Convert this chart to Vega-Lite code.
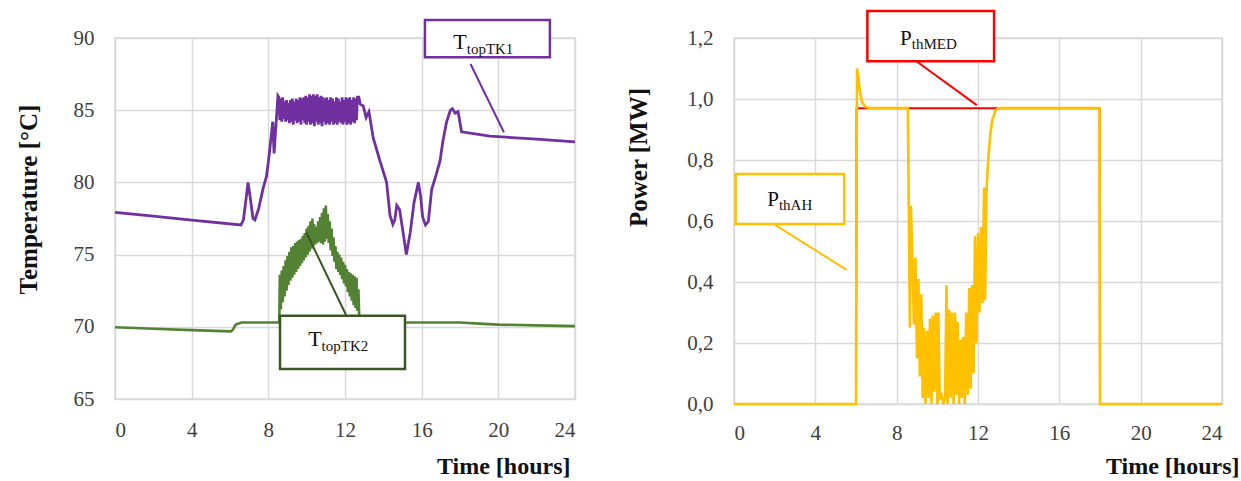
{
  "$schema": "https://vega.github.io/schema/vega-lite/v6.json",
  "background": "white",
  "padding": {"left": 15, "top": 9, "right": 0, "bottom": 0},
  "bounds": "flush",
  "spacing": 159,
  "resolve": {"scale": {"color": "independent", "stroke": "independent"}},
  "config": {
    "font": "Liberation Serif",
    "view": {"stroke": "#d9d9d9", "strokeWidth": 1.5},
    "axis": {
      "gridColor": "#d9d9d9", "gridWidth": 1.5, "domain": false, "ticks": false,
      "labelFont": "Liberation Serif", "titleFont": "Liberation Serif",
      "labelFontSize": 21, "labelColor": "#404040", "titleColor": "#111111",
      "titleFontSize": 24, "titleFontWeight": "bold"
    },
    "style": {"guide-label": {"font": "Liberation Serif"}, "guide-title": {"font": "Liberation Serif"}},
    "text": {"font": "Liberation Serif"}
  },
  "datasets": {
    "tk1": [
      {"t": 0, "v": 77.93}, {"t": 2, "v": 77.66}, {"t": 4, "v": 77.39}, {"t": 6.57, "v": 77.05},
      {"t": 6.7, "v": 77.4}, {"t": 6.85, "v": 79.0}, {"t": 6.94, "v": 80.0}, {"t": 7.05, "v": 79.0},
      {"t": 7.2, "v": 77.5}, {"t": 7.3, "v": 77.4}, {"t": 7.5, "v": 78.2}, {"t": 7.73, "v": 79.6},
      {"t": 7.9, "v": 80.4}, {"t": 8.0, "v": 81.4}, {"t": 8.1, "v": 82.6}, {"t": 8.23, "v": 84.2},
      {"t": 8.3, "v": 82.0}, {"t": 8.4, "v": 84.0}, {"t": 8.5, "v": 86.0},
      {"t": 8.55, "v": 85.9}, {"t": 8.6, "v": 84.3}, {"t": 8.65, "v": 85.8}, {"t": 8.7, "v": 84.2},
      {"t": 8.75, "v": 85.9}, {"t": 8.8, "v": 84.4}, {"t": 8.85, "v": 85.6}, {"t": 8.9, "v": 84.2},
      {"t": 8.95, "v": 85.7}, {"t": 9.0, "v": 84.3}, {"t": 9.05, "v": 85.5}, {"t": 9.1, "v": 84.1},
      {"t": 9.15, "v": 85.7}, {"t": 9.2, "v": 84.2}, {"t": 9.25, "v": 85.8}, {"t": 9.3, "v": 84.0},
      {"t": 9.35, "v": 85.6}, {"t": 9.4, "v": 84.3}, {"t": 9.45, "v": 85.8}, {"t": 9.5, "v": 84.1},
      {"t": 9.55, "v": 85.7}, {"t": 9.6, "v": 84.2}, {"t": 9.65, "v": 85.9}, {"t": 9.7, "v": 84.0},
      {"t": 9.75, "v": 85.8}, {"t": 9.8, "v": 84.3}, {"t": 9.85, "v": 85.9}, {"t": 9.9, "v": 84.1},
      {"t": 9.95, "v": 86.0}, {"t": 10.0, "v": 84.0}, {"t": 10.05, "v": 85.9}, {"t": 10.1, "v": 84.2},
      {"t": 10.15, "v": 86.1}, {"t": 10.2, "v": 84.0}, {"t": 10.25, "v": 86.0}, {"t": 10.3, "v": 84.1},
      {"t": 10.35, "v": 86.1}, {"t": 10.4, "v": 83.9}, {"t": 10.45, "v": 86.0}, {"t": 10.5, "v": 84.2},
      {"t": 10.55, "v": 86.1}, {"t": 10.6, "v": 84.0}, {"t": 10.65, "v": 85.9}, {"t": 10.7, "v": 84.1},
      {"t": 10.75, "v": 86.0}, {"t": 10.8, "v": 83.9}, {"t": 10.85, "v": 85.9}, {"t": 10.9, "v": 84.2},
      {"t": 10.95, "v": 85.8}, {"t": 11.0, "v": 84.0}, {"t": 11.05, "v": 85.9}, {"t": 11.1, "v": 84.1},
      {"t": 11.15, "v": 85.7}, {"t": 11.2, "v": 84.0}, {"t": 11.25, "v": 85.9}, {"t": 11.3, "v": 84.2},
      {"t": 11.35, "v": 85.8}, {"t": 11.4, "v": 84.0}, {"t": 11.45, "v": 85.6}, {"t": 11.5, "v": 84.1},
      {"t": 11.55, "v": 85.9}, {"t": 11.6, "v": 84.0}, {"t": 11.65, "v": 85.8}, {"t": 11.7, "v": 84.2},
      {"t": 11.75, "v": 85.6}, {"t": 11.8, "v": 84.1}, {"t": 11.85, "v": 85.9}, {"t": 11.9, "v": 84.0},
      {"t": 11.95, "v": 85.7}, {"t": 12.0, "v": 84.2}, {"t": 12.05, "v": 85.9}, {"t": 12.1, "v": 84.0},
      {"t": 12.15, "v": 85.8}, {"t": 12.2, "v": 84.1}, {"t": 12.25, "v": 85.9}, {"t": 12.3, "v": 84.0},
      {"t": 12.35, "v": 85.7}, {"t": 12.4, "v": 84.2}, {"t": 12.45, "v": 85.9}, {"t": 12.5, "v": 84.1},
      {"t": 12.55, "v": 85.8}, {"t": 12.6, "v": 84.3}, {"t": 12.65, "v": 85.9}, {"t": 12.72, "v": 85.9},
      {"t": 12.8, "v": 85.4}, {"t": 12.95, "v": 85.3},
      {"t": 13.1, "v": 84.5}, {"t": 13.25, "v": 84.9}, {"t": 13.47, "v": 83.1}, {"t": 13.8, "v": 81.6},
      {"t": 14.17, "v": 80.0}, {"t": 14.35, "v": 77.7}, {"t": 14.5, "v": 77.1}, {"t": 14.6, "v": 77.4},
      {"t": 14.7, "v": 78.4}, {"t": 14.85, "v": 78.1}, {"t": 15.0, "v": 76.8}, {"t": 15.2, "v": 75.0},
      {"t": 15.4, "v": 76.5}, {"t": 15.6, "v": 78.6}, {"t": 15.83, "v": 80.0}, {"t": 15.95, "v": 79.0},
      {"t": 16.05, "v": 77.6}, {"t": 16.2, "v": 77.05}, {"t": 16.35, "v": 77.3}, {"t": 16.52, "v": 79.5},
      {"t": 16.75, "v": 80.5}, {"t": 16.96, "v": 81.5}, {"t": 17.1, "v": 82.8}, {"t": 17.3, "v": 84.2},
      {"t": 17.5, "v": 85.0}, {"t": 17.6, "v": 85.1}, {"t": 17.75, "v": 84.8}, {"t": 17.9, "v": 84.9},
      {"t": 18.08, "v": 83.5}, {"t": 19.56, "v": 83.2}, {"t": 22, "v": 83.0}, {"t": 24, "v": 82.8}
    ],
    "tk2": [
      {"t": 0, "v": 69.97}, {"t": 2, "v": 69.87}, {"t": 4, "v": 69.77}, {"t": 6.05, "v": 69.68},
      {"t": 6.15, "v": 69.8}, {"t": 6.3, "v": 70.15}, {"t": 6.6, "v": 70.3}, {"t": 8.5, "v": 70.3},
      {"t": 8.57, "v": 70.3}, {"t": 8.6, "v": 73.6}, {"t": 8.65, "v": 71.2}, {"t": 8.7, "v": 73.9},
      {"t": 8.75, "v": 71.7}, {"t": 8.8, "v": 74.2}, {"t": 8.85, "v": 72.1}, {"t": 8.9, "v": 74.6},
      {"t": 8.95, "v": 72.5}, {"t": 9.0, "v": 74.9}, {"t": 9.05, "v": 72.9}, {"t": 9.1, "v": 75.2},
      {"t": 9.15, "v": 73.2}, {"t": 9.2, "v": 75.5}, {"t": 9.25, "v": 73.4}, {"t": 9.3, "v": 75.6},
      {"t": 9.35, "v": 73.6}, {"t": 9.4, "v": 75.8}, {"t": 9.45, "v": 73.8}, {"t": 9.5, "v": 75.9},
      {"t": 9.55, "v": 74.0}, {"t": 9.6, "v": 76.0}, {"t": 9.65, "v": 74.2}, {"t": 9.7, "v": 76.1},
      {"t": 9.75, "v": 74.4}, {"t": 9.8, "v": 76.3}, {"t": 9.85, "v": 74.6}, {"t": 9.9, "v": 76.5},
      {"t": 9.95, "v": 74.8}, {"t": 10.0, "v": 76.8}, {"t": 10.05, "v": 75.0}, {"t": 10.1, "v": 77.0},
      {"t": 10.15, "v": 75.2}, {"t": 10.2, "v": 77.3}, {"t": 10.25, "v": 75.4}, {"t": 10.3, "v": 77.5},
      {"t": 10.35, "v": 75.6}, {"t": 10.4, "v": 77.1}, {"t": 10.45, "v": 75.7}, {"t": 10.5, "v": 76.9},
      {"t": 10.55, "v": 75.8}, {"t": 10.6, "v": 77.3}, {"t": 10.65, "v": 75.9}, {"t": 10.7, "v": 77.6},
      {"t": 10.75, "v": 75.8}, {"t": 10.8, "v": 77.9}, {"t": 10.85, "v": 75.7}, {"t": 10.9, "v": 78.2},
      {"t": 10.95, "v": 75.9}, {"t": 11.0, "v": 78.4}, {"t": 11.05, "v": 76.1}, {"t": 11.1, "v": 77.8},
      {"t": 11.15, "v": 75.8}, {"t": 11.2, "v": 77.3}, {"t": 11.25, "v": 75.3}, {"t": 11.3, "v": 76.8},
      {"t": 11.35, "v": 74.9}, {"t": 11.4, "v": 76.2}, {"t": 11.45, "v": 74.5}, {"t": 11.5, "v": 75.6},
      {"t": 11.55, "v": 74.0}, {"t": 11.6, "v": 75.2}, {"t": 11.65, "v": 73.8}, {"t": 11.7, "v": 75.0},
      {"t": 11.75, "v": 73.6}, {"t": 11.8, "v": 74.8}, {"t": 11.85, "v": 73.3}, {"t": 11.9, "v": 74.5},
      {"t": 11.95, "v": 73.0}, {"t": 12.0, "v": 74.3}, {"t": 12.05, "v": 72.8}, {"t": 12.1, "v": 74.0},
      {"t": 12.15, "v": 72.4}, {"t": 12.2, "v": 73.8}, {"t": 12.25, "v": 72.1}, {"t": 12.3, "v": 73.7},
      {"t": 12.35, "v": 71.8}, {"t": 12.4, "v": 73.6}, {"t": 12.45, "v": 71.5}, {"t": 12.5, "v": 73.5},
      {"t": 12.55, "v": 71.3}, {"t": 12.6, "v": 73.4}, {"t": 12.65, "v": 71.1}, {"t": 12.7, "v": 72.6},
      {"t": 12.75, "v": 70.3}, {"t": 14, "v": 70.3}, {"t": 16, "v": 70.3}, {"t": 18, "v": 70.3},
      {"t": 19, "v": 70.22}, {"t": 20, "v": 70.15}, {"t": 22, "v": 70.1}, {"t": 24, "v": 70.05}
    ],
    "pah": [
      {"t": 0, "v": 0}, {"t": 6.0, "v": 0}, {"t": 6.02, "v": 0.6}, {"t": 6.05, "v": 1.1},
      {"t": 6.12, "v": 1.07}, {"t": 6.2, "v": 1.02}, {"t": 6.3, "v": 0.99}, {"t": 6.45, "v": 0.975},
      {"t": 6.7, "v": 0.97}, {"t": 8.55, "v": 0.97}, {"t": 8.6, "v": 0.62}, {"t": 8.65, "v": 0.25},
      {"t": 8.7, "v": 0.65}, {"t": 8.78, "v": 0.45}, {"t": 8.85, "v": 0.26}, {"t": 8.92, "v": 0.48},
      {"t": 9.0, "v": 0.15}, {"t": 9.07, "v": 0.41}, {"t": 9.14, "v": 0.09}, {"t": 9.21, "v": 0.36},
      {"t": 9.28, "v": 0.02}, {"t": 9.35, "v": 0.25}, {"t": 9.42, "v": 0.0}, {"t": 9.5, "v": 0.24},
      {"t": 9.57, "v": 0.02}, {"t": 9.64, "v": 0.28}, {"t": 9.71, "v": 0.0}, {"t": 9.78, "v": 0.29},
      {"t": 9.85, "v": 0.04}, {"t": 9.92, "v": 0.30}, {"t": 10.0, "v": 0.0}, {"t": 10.05, "v": 0.30},
      {"t": 10.12, "v": 0.02}, {"t": 10.2, "v": 0.03}, {"t": 10.3, "v": 0.0}, {"t": 10.38, "v": 0.02},
      {"t": 10.45, "v": 0.39}, {"t": 10.5, "v": 0.0}, {"t": 10.58, "v": 0.31}, {"t": 10.65, "v": 0.02},
      {"t": 10.72, "v": 0.30}, {"t": 10.8, "v": 0.0}, {"t": 10.87, "v": 0.30}, {"t": 10.94, "v": 0.03},
      {"t": 11.0, "v": 0.27}, {"t": 11.07, "v": 0.0}, {"t": 11.14, "v": 0.21}, {"t": 11.21, "v": 0.02},
      {"t": 11.28, "v": 0.22}, {"t": 11.35, "v": 0.0}, {"t": 11.42, "v": 0.30}, {"t": 11.5, "v": 0.03},
      {"t": 11.57, "v": 0.38}, {"t": 11.64, "v": 0.05}, {"t": 11.71, "v": 0.39}, {"t": 11.78, "v": 0.1},
      {"t": 11.85, "v": 0.55}, {"t": 11.92, "v": 0.2}, {"t": 12.0, "v": 0.56}, {"t": 12.07, "v": 0.3},
      {"t": 12.15, "v": 0.58}, {"t": 12.22, "v": 0.33}, {"t": 12.3, "v": 0.71}, {"t": 12.35, "v": 0.34},
      {"t": 12.42, "v": 0.7}, {"t": 12.5, "v": 0.8}, {"t": 12.6, "v": 0.88}, {"t": 12.7, "v": 0.93},
      {"t": 12.85, "v": 0.96}, {"t": 13.0, "v": 0.97}, {"t": 17.98, "v": 0.97}, {"t": 18.0, "v": 0},
      {"t": 24, "v": 0}
    ],
    "pmed": [
      {"t": 0, "v": 0}, {"t": 6.0, "v": 0}, {"t": 6.03, "v": 0.97}, {"t": 17.98, "v": 0.97},
      {"t": 18.0, "v": 0}, {"t": 24, "v": 0}
    ],
    "leftBoxes": [
      {"name": "TK1", "t": 16.17, "t2": 22.69, "v": 91.25, "v2": 88.66},
      {"name": "TK2", "t": 8.61, "t2": 15.13, "v": 70.77, "v2": 67.08}
    ],
    "leftLeaders": [
      {"name": "TK1", "t": 18.55, "t2": 20.29, "v": 88.2, "v2": 83.47},
      {"name": "TK2", "t": 9.98, "t2": 12.11, "v": 76.54, "v2": 70.66}
    ],
    "leftLabels": [
      {"name": "TK1", "t": 18.35, "v": 89.24, "main": "T", "sub": "topTK1"},
      {"name": "TK2", "t": 10.78, "v": 68.65, "main": "T", "sub": "topTK2"}
    ],
    "rightBoxes": [
      {"name": "MED", "t": 6.56, "t2": 12.79, "v": 1.2885, "v2": 1.1236},
      {"name": "AH", "t": 0.08, "t2": 5.42, "v": 0.754, "v2": 0.59}
    ],
    "rightLeaders": [
      {"name": "MED", "t": 8.82, "t2": 11.94, "v": 1.131, "v2": 0.98},
      {"name": "AH", "t": 2.02, "t2": 5.54, "v": 0.587, "v2": 0.44}
    ],
    "rightLabels": [
      {"name": "MED", "t": 8.74, "v": 1.177, "main": "P", "sub": "thMED"},
      {"name": "AH", "t": 2.21, "v": 0.65, "main": "P", "sub": "thAH"}
    ]
  },
  "hconcat": [
    {
      "width": 460,
      "height": 361,
      "encoding": {
        "x": {
          "field": "t", "type": "quantitative",
          "scale": {"domain": [0, 24], "nice": false, "zero": false},
          "axis": {
            "values": [0, 4, 8, 12, 16, 20, 24], "grid": true, "labelPadding": 20,
            "labelFont": "Liberation Serif", "titleFont": "Liberation Serif",
            "title": "Time [hours]", "titleAlign": "right", "titleBaseline": "middle",
            "titleX": 455, "titleY": 67, "titleFontSize": 24
          }
        },
        "y": {
          "field": "v", "type": "quantitative",
          "scale": {"domain": [65, 90], "nice": false, "zero": false},
          "axis": {
            "values": [65, 70, 75, 80, 85, 90], "grid": true, "labelPadding": 21,
            "labelFont": "Liberation Serif", "titleFont": "Liberation Serif",
            "title": "Temperature [°C]", "titleAngle": -90, "titleAlign": "center",
            "titleBaseline": "middle", "titleX": -87, "titleY": 161, "titleFontSize": 25
          }
        }
      },
      "layer": [
        {"data": {"name": "tk2"}, "mark": {"type": "line", "color": "#548235", "strokeWidth": 2.6}},
        {"data": {"name": "tk1"}, "mark": {"type": "line", "color": "#7030A0", "strokeWidth": 2.8}},
        {
          "data": {"name": "leftLeaders"},
          "mark": {"type": "rule", "strokeWidth": 2},
          "encoding": {
            "x2": {"field": "t2"}, "y2": {"field": "v2"},
            "color": {"field": "name", "type": "nominal", "scale": {"domain": ["TK1", "TK2"], "range": ["#7030A0", "#375623"]}, "legend": null}
          }
        },
        {
          "data": {"name": "leftBoxes"},
          "mark": {"type": "rect", "fill": "white", "strokeWidth": 2.5},
          "encoding": {
            "x2": {"field": "t2"}, "y2": {"field": "v2"},
            "stroke": {"field": "name", "type": "nominal", "scale": {"domain": ["TK1", "TK2"], "range": ["#7030A0", "#385723"]}, "legend": null}
          }
        },
        {
          "data": {"name": "leftLabels"},
          "mark": {"type": "text", "font": "Liberation Serif", "fontSize": 22, "align": "right", "baseline": "alphabetic", "color": "#111111"},
          "encoding": {"text": {"field": "main"}}
        },
        {
          "data": {"name": "leftLabels"},
          "mark": {"type": "text", "font": "Liberation Serif", "fontSize": 15, "align": "left", "baseline": "alphabetic", "dy": 5, "color": "#111111"},
          "encoding": {"text": {"field": "sub"}}
        }
      ]
    },
    {
      "width": 488,
      "height": 366,
      "encoding": {
        "x": {
          "field": "t", "type": "quantitative",
          "scale": {"domain": [0, 24], "nice": false, "zero": false},
          "axis": {
            "values": [0, 4, 8, 12, 16, 20, 24], "grid": true, "labelPadding": 18,
            "labelFont": "Liberation Serif", "titleFont": "Liberation Serif",
            "title": "Time [hours]", "titleAlign": "right", "titleBaseline": "middle",
            "titleX": 505, "titleY": 62, "titleFontSize": 24
          }
        },
        "y": {
          "field": "v", "type": "quantitative",
          "scale": {"domain": [0, 1.2], "nice": false, "zero": false},
          "axis": {
            "values": [0, 0.2, 0.4, 0.6, 0.8, 1.0, 1.2], "grid": true, "labelPadding": 21,
            "labelFont": "Liberation Serif", "titleFont": "Liberation Serif",
            "labelExpr": "replace(format(datum.value, '.1f'), '.', ',')",
            "title": "Power [MW]", "titleAngle": -90, "titleAlign": "center",
            "titleBaseline": "middle", "titleX": -96, "titleY": 119, "titleFontSize": 25
          }
        }
      },
      "layer": [
        {"data": {"name": "pmed"}, "mark": {"type": "line", "color": "#FF0000", "strokeWidth": 2}},
        {"data": {"name": "pah"}, "mark": {"type": "line", "color": "#FFC000", "strokeWidth": 2.6}},
        {
          "data": {"name": "rightLeaders"},
          "mark": {"type": "rule", "strokeWidth": 2},
          "encoding": {
            "x2": {"field": "t2"}, "y2": {"field": "v2"},
            "color": {"field": "name", "type": "nominal", "scale": {"domain": ["MED", "AH"], "range": ["#FF0000", "#FFC000"]}, "legend": null}
          }
        },
        {
          "data": {"name": "rightBoxes"},
          "mark": {"type": "rect", "fill": "white", "strokeWidth": 2.5},
          "encoding": {
            "x2": {"field": "t2"}, "y2": {"field": "v2"},
            "stroke": {"field": "name", "type": "nominal", "scale": {"domain": ["MED", "AH"], "range": ["#FF0000", "#FFC000"]}, "legend": null}
          }
        },
        {
          "data": {"name": "rightLabels"},
          "mark": {"type": "text", "font": "Liberation Serif", "fontSize": 21, "align": "right", "baseline": "alphabetic", "color": "#111111"},
          "encoding": {"text": {"field": "main"}}
        },
        {
          "data": {"name": "rightLabels"},
          "mark": {"type": "text", "font": "Liberation Serif", "fontSize": 15, "align": "left", "baseline": "alphabetic", "dy": 4, "color": "#111111"},
          "encoding": {"text": {"field": "sub"}}
        }
      ]
    }
  ]
}
